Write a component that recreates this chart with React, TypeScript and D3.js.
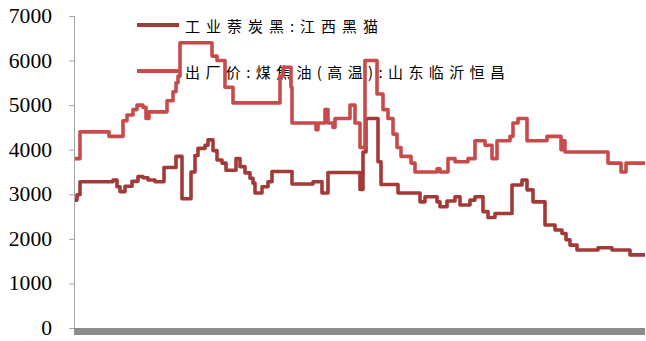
import React from "react";
import * as d3 from "d3";

const W = 646;
const H = 341;

// y axis ticks
const yTicks = [0, 1000, 2000, 3000, 4000, 5000, 6000, 7000];

// legend labels
const seriesNames = ["工业萘炭黑:江西黑猫", "出厂价:煤焦油(高温):山东临沂恒昌"];

// 工业萘炭黑:江西黑猫 — period index and value (step changes)
const naphIdx = [0, 2, 5, 38, 42, 45, 50, 57, 63, 68, 73, 80, 89, 101, 107, 116, 120, 123, 130, 133, 138, 142, 147, 151, 161, 165, 170, 175, 178, 180, 187, 193, 197, 217, 238, 247, 253, 285, 288, 291, 303, 306, 323, 345, 350, 362, 365, 372, 380, 385, 395, 400, 408, 413, 420, 437, 447, 452, 458, 470, 480, 487, 491, 495, 502, 523, 537, 555, 570];
const naphVal = [2870, 2990, 3280, 3320, 3170, 3060, 3180, 3290, 3400, 3370, 3320, 3280, 3600, 3850, 2900, 3500, 3870, 4030, 4100, 4220, 3980, 3770, 3700, 3540, 3800, 3620, 3480, 3360, 3250, 3030, 3170, 3280, 3510, 3230, 3280, 3030, 3490, 3110, 3950, 4700, 3730, 3220, 3030, 2830, 2945, 2830, 2720, 2850, 2945, 2760, 2870, 2945, 2610, 2480, 2570, 3210, 3320, 3100, 2830, 2310, 2200, 2120, 1980, 1860, 1750, 1800, 1750, 1640, 1640];

// 出厂价:煤焦油(高温):山东临沂恒昌
const tarIdx = [0, 5, 34, 48, 52, 58, 62, 68, 71, 74, 92, 98, 101, 103, 105, 137, 142, 150, 158, 205, 208, 216, 217, 241, 243, 250, 253, 258, 260, 275, 280, 285, 290, 302, 308, 313, 318, 322, 326, 336, 340, 362, 365, 373, 380, 393, 400, 410, 417, 422, 435, 438, 443, 452, 472, 486, 488, 490, 533, 546, 551, 570];
const tarVal = [3800, 4400, 4300, 4650, 4780, 4900, 5000, 4950, 4700, 4850, 5100, 5300, 5500, 5650, 6400, 6100, 6000, 5400, 5050, 5650, 5850, 5400, 4600, 4450, 4600, 4900, 4600, 4500, 4700, 5000, 4600, 4050, 6000, 5250, 4900, 4700, 4350, 4050, 3850, 3700, 3500, 3570, 3500, 3800, 3730, 3800, 4200, 4100, 3800, 4200, 4300, 4600, 4700, 4200, 4300, 4000, 4200, 3950, 3700, 3500, 3700, 3700];

const DARK = "#A23A38";
const LIGHT = "#C84B4B";

export default function App() {
  const x = d3.scaleLinear().domain([0, 570]).range([75, 645]);
  const y = d3.scaleLinear().domain([0, 7000]).range([328, 16]);

  const line = d3
    .line<[number, number]>()
    .x((d) => x(d[0]))
    .y((d) => y(d[1]))
    .curve(d3.curveStepAfter);

  const naph: [number, number][] = naphIdx.map((t, i) => [t, naphVal[i]]);
  const tar: [number, number][] = tarIdx.map((t, i) => [t, tarVal[i]]);

  return (
    <svg
      width={W}
      height={H}
      style={{ position: "absolute", left: 0, top: 0, background: "#fff" }}
    >
      {/* y axis */}
      <line x1={74.5} x2={74.5} y1={y(7000)} y2={y(0)} stroke="#A6A6A6" strokeWidth={1} />
      {yTicks.map((t) => (
        <g key={t}>
          <line x1={69} x2={74.5} y1={y(t) + 0.5} y2={y(t) + 0.5} stroke="#A6A6A6" strokeWidth={1} />
          <text
            x={52}
            y={y(t)}
            textAnchor="end"
            dominantBaseline="central"
            fontFamily="'Liberation Serif', 'DejaVu Serif', serif"
            fontSize={20}
            fill="#000"
            textLength={String(t).length * 10.8}
            lengthAdjust="spacingAndGlyphs"
          >
            {t}
          </text>
        </g>
      ))}
      {/* x axis bar */}
      <rect x={74} y={y(0)} width={571} height={7} fill="#8C8C8C" />

      {/* legend */}
      <line x1={137} x2={179} y1={25} y2={25} stroke={DARK} strokeWidth={4} />
      <text
        x={185}
        y={25}
        dominantBaseline="central"
        fontFamily="'Noto Sans CJK SC', sans-serif"
        fontSize={15}
        fill="#000"
        textLength={193}
        lengthAdjust="spacing"
      >
        {seriesNames[0]}
      </text>
      <line x1={137} x2={179} y1={71} y2={71} stroke={LIGHT} strokeWidth={4} />
      <text
        x={185}
        y={71}
        dominantBaseline="central"
        fontFamily="'Noto Sans CJK SC', sans-serif"
        fontSize={15}
        fill="#000"
        textLength={320}
        lengthAdjust="spacing"
      >
        {seriesNames[1]}
      </text>

      {/* series */}
      <path d={line(naph) || ""} fill="none" stroke={DARK} strokeWidth={3.6} strokeLinejoin="round" />
      <path d={line(tar) || ""} fill="none" stroke={LIGHT} strokeWidth={3.6} strokeLinejoin="round" />
    </svg>
  );
}
